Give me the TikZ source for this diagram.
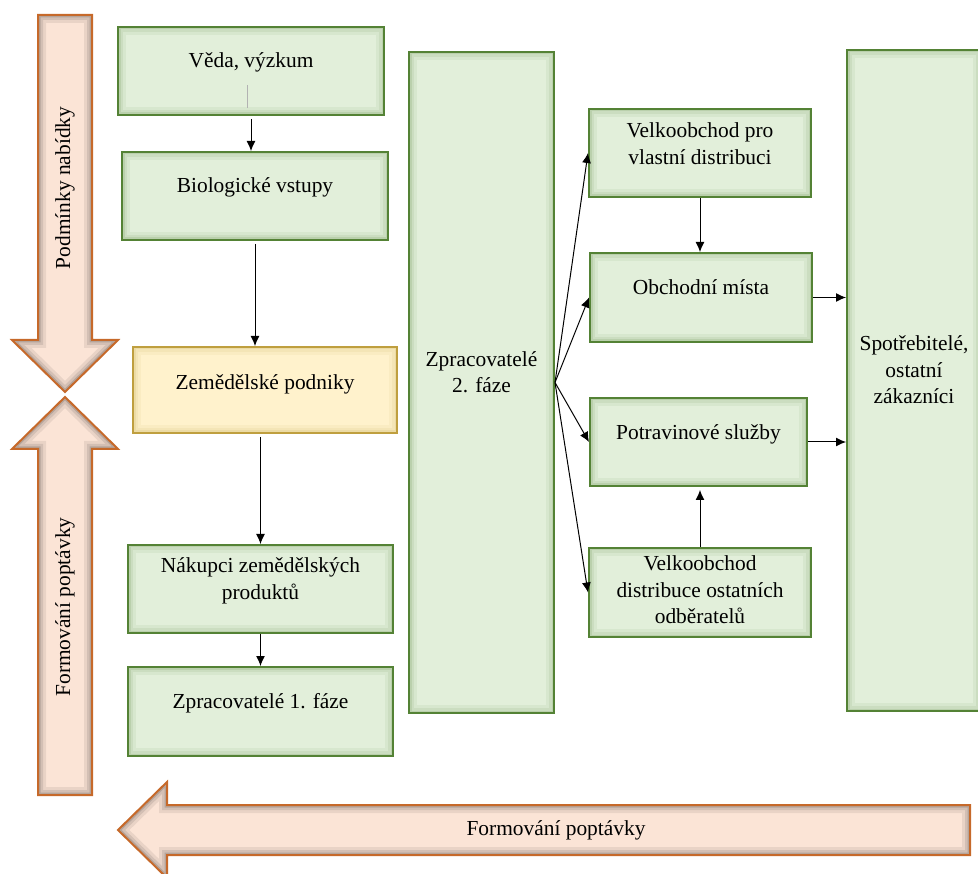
\documentclass[tikz,border=0pt]{standalone}
\usepackage{fontspec}
\setmainfont{Liberation Serif}
\usetikzlibrary{arrows.meta}
\definecolor{boxfill}{HTML}{E2EFDA}
\definecolor{boxedge}{HTML}{548235}
\definecolor{farmfill}{HTML}{FFF2CC}
\definecolor{farmedge}{HTML}{BF9F3F}
\definecolor{bandfill}{HTML}{FBE4D6}
\definecolor{bandedge}{HTML}{C6692A}
\newcommand{\downband}{(38,15) -- (92,15) -- (92,340) -- (118,340) -- (65,392) -- (12,340) -- (38,340) -- cycle}
\newcommand{\upband}{(65,397) -- (118,449) -- (92,449) -- (92,795) -- (38,795) -- (38,449) -- (12,449) -- cycle}
\newcommand{\leftband}{(118,830) -- (167,782) -- (167,805) -- (970,805) -- (970,855) -- (167,855) -- (167,878) -- cycle}
\tikzset{
	glow/.style={path picture={\foreach \w/\o in {16/0.07,10/0.09,5/0.14}
		\draw[line width=\w pt,opacity=\o] (path picture bounding box.south west) rectangle (path picture bounding box.north east);}},
	chainbox/.style={draw=boxedge, fill=boxfill, line width=2pt, glow, align=center, text depth=21pt},
	farmbox/.style={chainbox, draw=farmedge, fill=farmfill},
	band/.style={draw=bandedge, fill=bandfill, line width=2pt, line join=miter},
	conn/.style={line width=1pt, -{Latex[length=10pt,width=9pt]}}
}

\begin{document}
\begin{tikzpicture}[x=1pt, y=-1pt, font=\fontsize{21.4}{26.5}\selectfont]
			\useasboundingbox (0,0) rectangle (978,874);
			\clip (0,0) rectangle (978,874);
			\fill[bandfill] \downband;
			\begin{scope}
				\clip \downband;
				\foreach \w/\o in {16/0.07,10/0.09,5/0.14} \draw[line width=\w pt, opacity=\o] \downband;
			\end{scope}
			\draw[band, fill=none] \downband;
			\fill[bandfill] \upband;
			\begin{scope}
				\clip \upband;
				\foreach \w/\o in {16/0.07,10/0.09,5/0.14} \draw[line width=\w pt, opacity=\o] \upband;
			\end{scope}
			\draw[band, fill=none] \upband;
			\fill[bandfill] \leftband;
			\begin{scope}
				\clip \leftband;
				\foreach \w/\o in {16/0.07,10/0.09,5/0.14} \draw[line width=\w pt, opacity=\o] \leftband;
			\end{scope}
			\draw[band, fill=none] \leftband;
			\node[rotate=90] (supply) at (65,188) {Podmínky nabídky};
			\node[rotate=90] (demandup) at (65,607) {Formování poptávky};
			\node (demandleft) at (556,830) {Formování poptávky};

			\node[chainbox, minimum width=266pt, minimum height=88pt] (veda) at (251,71) {Věda, výzkum};
			\node[chainbox, minimum width=266pt, minimum height=88pt] (bio) at (255,196) {Biologické vstupy};
			\node[farmbox, minimum width=264pt, minimum height=86pt, text depth=15pt] (zem) at (265,390) {Zemědělské podniky};
			\node[chainbox, minimum width=265pt, minimum height=88pt] (nak) at (260.5,589) {Nákupci zemědělských\\produktů};
			\node[chainbox, minimum width=265pt, minimum height=89pt] (zp1) at (260.5,711.5) {Zpracovatelé 1. fáze};
			\node[chainbox, minimum width=145pt, minimum height=661pt] (zp2) at (481.5,382.5) {Zpracovatelé\\2. fáze};
			\node[chainbox, minimum width=222pt, minimum height=88pt, text depth=19pt] (vpvd) at (700,153) {Velkoobchod pro\\vlastní distribuci};
			\node[chainbox, minimum width=222pt, minimum height=89pt] (om) at (701,297.5) {Obchodní místa};
			\node[chainbox, minimum width=217pt, minimum height=88pt, text depth=19pt] (ps) at (698.5,442) {Potravinové služby};
			\node[chainbox, minimum width=222pt, minimum height=89pt, text depth=5pt] (vdoo) at (700,592.5) {Velkoobchod\\distribuce ostatních\\odběratelů};
			\node[chainbox, minimum width=134pt, minimum height=661pt] (spot) at (914,380.5) {Spotřebitelé,\\ostatní\\zákazníci};

			\draw[gray!60, line width=0.8pt] (247,85) -- (247,108);
			\draw[conn, shorten <=3pt] (veda.south) -- (veda.south |- bio.north);
			\draw[conn, shorten <=3pt] (bio.south) -- (bio.south |- zem.north);
			\draw[conn, shorten <=3pt] (nak.north |- zem.south) -- (nak.north);
			\draw[conn] (nak.south) -- (zp1.north);
			\draw[conn] (zp2.east) -- (vpvd.west);
			\draw[conn] (zp2.east) -- (om.west);
			\draw[conn] (zp2.east) -- (ps.west);
			\draw[conn] (zp2.east) -- (vdoo.west);
			\draw[conn] (vpvd.south) -- (vpvd.south |- om.north);
			\draw[conn, shorten >=3pt] (vdoo.north) -- (vdoo.north |- ps.south);
			\draw[conn] (om.east) -- (om.east -| spot.west);
			\draw[conn] (ps.east) -- (ps.east -| spot.west);
		\end{tikzpicture}
\end{document}
